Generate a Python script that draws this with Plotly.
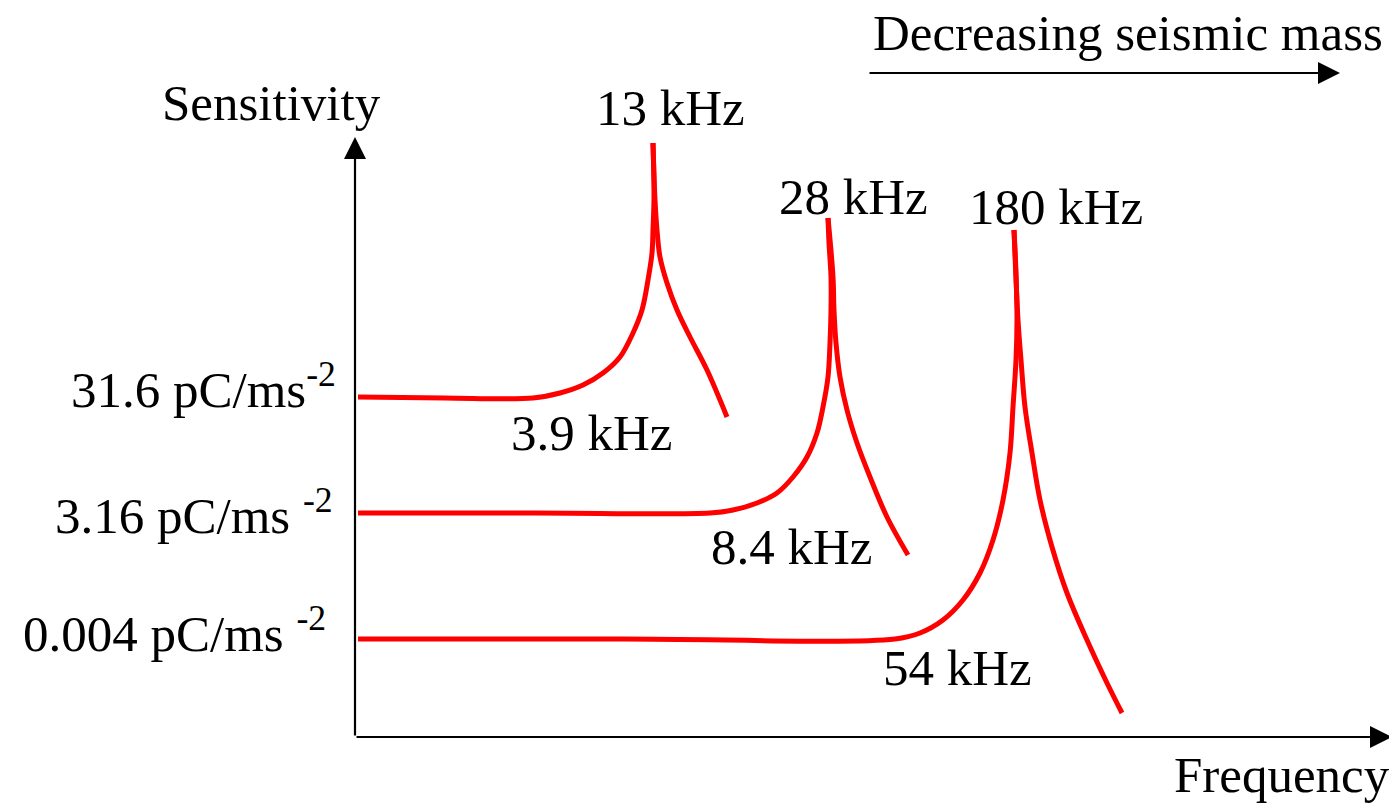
import plotly.graph_objects as go

# Schematic coordinates: origin at the axes corner, x to the right, y upward (arbitrary units)
# Each curve: flat band, rising branch up to the resonance peak, then falling branch.
# Curve 1: 13 kHz resonance (highest sensitivity)
c1_x = [3, 90, 178, 205, 228, 248, 265, 278, 287, 293, 297, 298, 299, 298,
        300, 302, 305, 312, 322, 335, 352, 372]
c1_y = [340, 339, 339, 344, 352, 364, 380, 404, 427, 457, 484, 507, 540, 594,
        537, 507, 480, 454, 427, 400, 367, 320]
c1_peak = 13
# Curve 2: 28 kHz resonance
c2_x = [3, 180, 355, 378, 402, 422, 438, 452, 462, 468, 473, 475, 476, 476, 474, 473,
        478, 479, 481, 485, 492, 502, 515, 532, 553]
c2_y = [224, 224, 224, 227, 234, 244, 260, 280, 304, 330, 360, 394, 427, 460, 494, 519,
        460, 427, 394, 360, 327, 294, 260, 220, 182]
c2_peak = 15
# Curve 3: 180 kHz resonance
c3_x = [3, 270, 540, 565, 588, 608, 625, 638, 648, 655, 658, 661, 662, 661, 659,
        663, 666, 670, 677, 685, 697, 712, 732, 752, 767]
c3_y = [98, 98, 98, 104, 117, 137, 164, 197, 237, 284, 330, 377, 417, 464, 507,
        417, 377, 330, 284, 237, 190, 144, 97, 54, 24]
c3_peak = 14

curves = [(c1_x, c1_y, c1_peak), (c2_x, c2_y, c2_peak), (c3_x, c3_y, c3_peak)]

# Sensitivity levels (y-axis labels)
sens_labels = ["31.6 pC/ms<sup>-2</sup>", "3.16 pC/ms <sup>-2</sup>", "0.004 pC/ms <sup>-2</sup>"]
sens_y = [351, 225, 107]
sens_xr = [-17, -20, -27]

# Resonance frequencies (peak labels) and corner frequencies (knee labels)
peak_labels = ["13 kHz", "28 kHz", "180 kHz"]
peak_x = [315, 498, 701]
peak_y = [629, 540, 530]
knee_labels = ["3.9 kHz", "8.4 kHz", "54 kHz"]
knee_x = [236, 436, 602]
knee_y = [304, 190, 69]

FONT = "Liberation Serif"
FS = 51

fig = go.Figure()
for cx, cy, pk in curves:
    # rising branch (up to and including the peak)
    fig.add_trace(go.Scatter(x=cx[:pk + 1], y=cy[:pk + 1], mode="lines",
                             line=dict(color="#ff0000", width=5, shape="spline", smoothing=1.0),
                             hoverinfo="skip", showlegend=False))
    # falling branch (from the peak)
    fig.add_trace(go.Scatter(x=[cx[pk]] + cx[pk + 1:], y=[cy[pk]] + cy[pk + 1:], mode="lines",
                             line=dict(color="#ff0000", width=5, shape="spline", smoothing=1.0),
                             hoverinfo="skip", showlegend=False))

ann = []
# axes arrows
ann.append(dict(x=0, y=600, ax=0, ay=0, xref="x", yref="y", axref="x", ayref="y",
                showarrow=True, arrowhead=2, arrowsize=2, arrowwidth=2.2, arrowcolor="black", text=""))
ann.append(dict(x=1037, y=0, ax=0, ay=0, xref="x", yref="y", axref="x", ayref="y",
                showarrow=True, arrowhead=2, arrowsize=2, arrowwidth=2.2, arrowcolor="black", text=""))
# decreasing seismic mass arrow
ann.append(dict(x=985, y=664, ax=513, ay=664, xref="x", yref="y", axref="x", ayref="y",
                showarrow=True, arrowhead=2, arrowsize=2, arrowwidth=2.2, arrowcolor="black", text=""))

def txt(t, x, y, xanchor="center", size=FS):
    ann.append(dict(text=t, x=x, y=y, xref="x", yref="y", showarrow=False,
                    xanchor=xanchor, yanchor="middle",
                    font=dict(family=FONT, size=size, color="black")))

txt("Decreasing seismic mass", 1030, 704, "right")
txt("Sensitivity", 28, 634, "right")
txt("Frequency", 1037, -38, "right")
for t, x, y in zip(peak_labels, peak_x, peak_y):
    txt(t, x, y)
for t, x, y in zip(knee_labels, knee_x, knee_y):
    txt(t, x, y)
for t, x, y in zip(sens_labels, sens_xr, sens_y):
    txt(t, x, y, "right")

# page body has an 8px margin; size the figure so that it fills the window exactly
fig.update_layout(
    width=1389, height=795,
    margin=dict(l=0, r=0, t=0, b=0),
    paper_bgcolor="white", plot_bgcolor="white",
    xaxis=dict(range=[-347, 1042], visible=False, fixedrange=True),
    yaxis=dict(range=[-66, 729], visible=False, fixedrange=True),
    annotations=ann,
    showlegend=False,
)
fig.write_html("out.html")
